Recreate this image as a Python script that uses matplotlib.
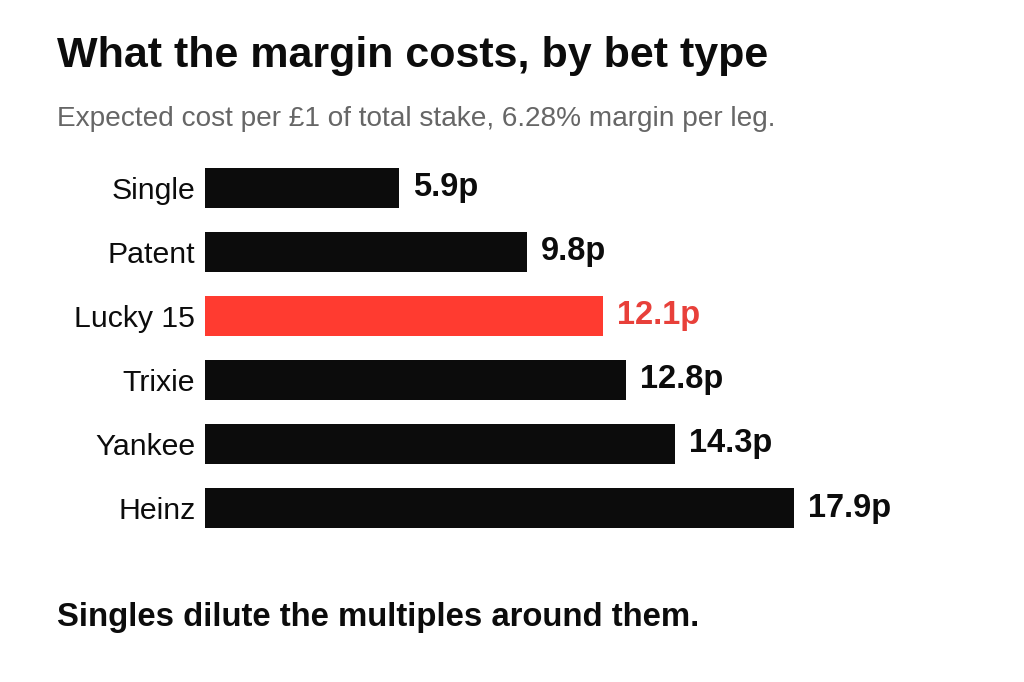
import matplotlib
matplotlib.use("Agg")
import matplotlib.pyplot as plt

# data
bet_types = ["Single", "Patent", "Lucky 15", "Trixie", "Yankee", "Heinz"]
cost_pence = [5.9, 9.8, 12.1, 12.8, 14.3, 17.9]
highlight = "Lucky 15"

BLACK = "#0c0c0c"
RED = "#ff3b30"
RED_TEXT = "#e8403a"

plt.rcParams['font.family'] = ['Liberation Sans', 'DejaVu Sans']

W, H = 1024, 682
fig = plt.figure(figsize=(W / 100, H / 100), dpi=100)

# axes placed in pixel terms: bars start at x=205, ~32.9 px per penny
px_per_unit = 32.9
x_max = 24
ax_left, ax_top, ax_bottom = 205, 156, 540
ax = fig.add_axes([ax_left / W, 1 - ax_bottom / H,
                   x_max * px_per_unit / W, (ax_bottom - ax_top) / H])

colors = [RED if b == highlight else BLACK for b in bet_types]
y = range(len(bet_types))
ax.barh(y, cost_pence, height=0.625, color=colors)
ax.set_xlim(0, x_max)
ax.set_ylim(len(bet_types) - 0.5, -0.5)

for i, (b, v) in enumerate(zip(bet_types, cost_pence)):
    ax.annotate(f"{v}p", (v, i), xytext=(10, 0), textcoords="offset points",
                va="center", ha="left", fontsize=23.5, fontweight="bold",
                color=RED_TEXT if b == highlight else BLACK)

ax.set_yticks(list(y))
ax.set_yticklabels(bet_types, fontsize=21.8, color=BLACK)
ax.tick_params(axis="y", length=0, pad=7)
ax.set_xticks([])
for s in ax.spines.values():
    s.set_visible(False)

fig.text(57 / W, 1 - 67 / H, "What the margin costs, by bet type",
         fontsize=31, fontweight="bold", color=BLACK, va="baseline")
fig.text(57 / W, 1 - 126 / H,
         "Expected cost per £1 of total stake, 6.28% margin per leg.",
         fontsize=20.2, color="#666666", va="baseline")
fig.text(57 / W, 1 - 626 / H, "Singles dilute the multiples around them.",
         fontsize=23.7, fontweight="bold", color=BLACK, va="baseline")

fig.savefig("out.png", dpi=100, facecolor="white")
